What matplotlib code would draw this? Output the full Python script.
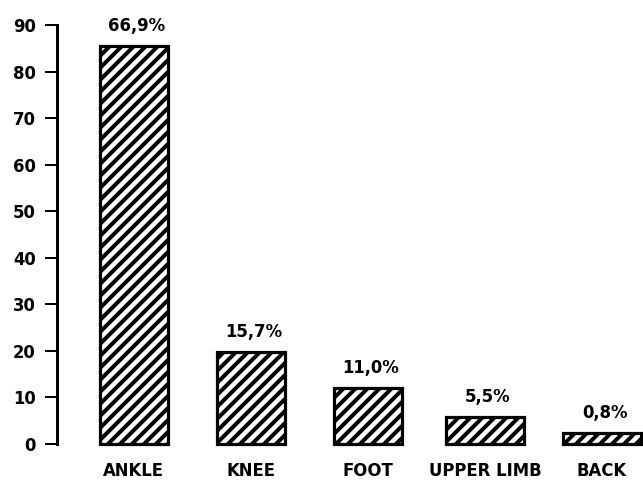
import matplotlib.pyplot as plt
import numpy as np

# injury location data (bar heights, labels as printed)
categories = ['ANKLE', 'KNEE', 'FOOT', 'UPPER LIMB', 'BACK']
values = [85.5, 19.8, 12.0, 5.9, 2.3]
pct_labels = ['66,9%', '15,7%', '11,0%', '5,5%', '0,8%']
yticks = [0, 10, 20, 30, 40, 50, 60, 70, 80, 90]

# work at 72 dpi so 1 pt == 1 px (hatch tile then matches the scan)
DPI = 72
plt.rcParams['font.family'] = ['DejaVu Sans']
plt.rcParams['font.weight'] = 'bold'
plt.rcParams['hatch.linewidth'] = 4.0
plt.rcParams['hatch.color'] = 'black'

fig = plt.figure(figsize=(643 / DPI, 480 / DPI), dpi=DPI)
ax = fig.add_axes([57 / 643, 36 / 480, 1 - 57 / 643, 419 / 480])

x = np.arange(len(categories))
widths = [0.58, 0.58, 0.58, 0.66, 0.66]
bars = ax.bar(x, values, width=widths, color='white', edgecolor='black',
              linewidth=3.2, hatch='//', clip_on=False)

# percentage labels above each bar
for bar, txt in zip(bars, pct_labels):
    ax.annotate(txt, (bar.get_x() + bar.get_width() / 2, bar.get_height()),
                xytext=(3, 11), textcoords='offset points',
                ha='center', va='bottom', fontsize=16.5, fontweight='bold')

ax.set_xlim(-0.655, 4.35)
ax.set_ylim(0, 90)
ax.set_yticks(yticks)
ax.set_xticks(x)
ax.set_xticklabels(categories, fontsize=16.5, fontweight='bold')
ax.tick_params(axis='x', length=0, pad=18)
ax.tick_params(axis='y', length=12, width=2, pad=9, labelsize=16.5)
for lbl in ax.get_yticklabels():
    lbl.set_fontweight('bold')

ax.spines['top'].set_visible(False)
ax.spines['right'].set_visible(False)
ax.spines['bottom'].set_visible(False)
ax.spines['left'].set_linewidth(3)

plt.savefig('out.png', dpi=DPI)
